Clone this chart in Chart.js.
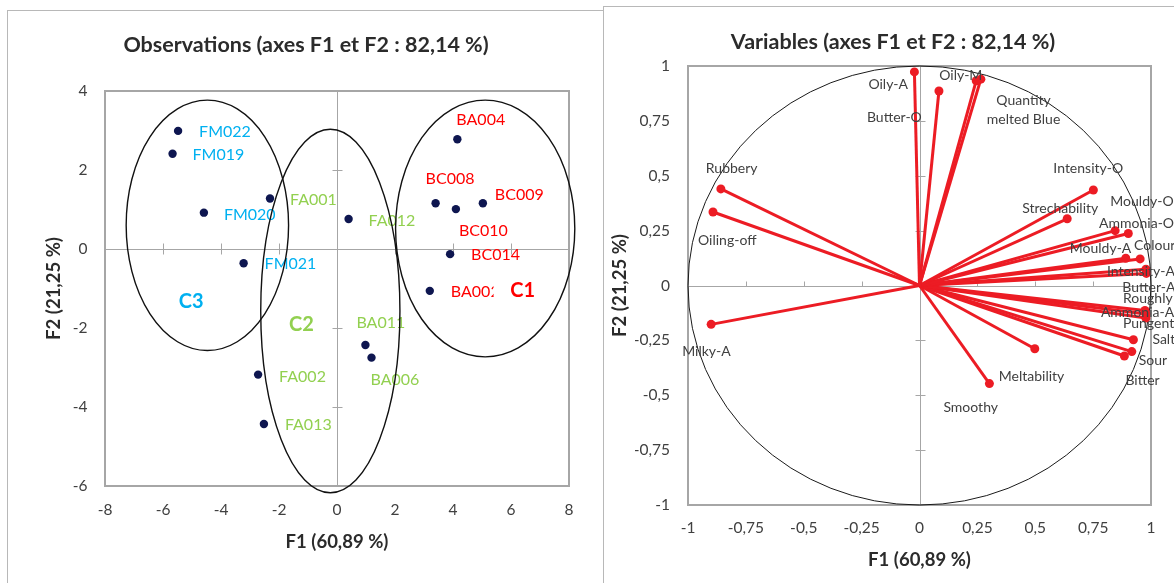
<!DOCTYPE html>
<html>
<head>
<meta charset="utf-8">
<script src="https://cdn.jsdelivr.net/npm/chart.js@4"></script>
<style>
  html, body { margin: 0; padding: 0; background: #fff; overflow: hidden; }
  body { width: 1174px; height: 583px; position: relative; }
  .panel { position: absolute; border: 1px solid #B8B8B8; background: #fff; }
  canvas { position: absolute; }
</style>
</head>
<body>
<div class="panel" style="left:7px;top:10px;width:596px;height:600px"></div>
<div class="panel" style="left:603px;top:6px;width:600px;height:600px"></div>
<canvas id="obs" width="598" height="573" style="left:7px;top:10px"></canvas>
<canvas id="vars" width="580" height="577" style="left:603px;top:6px"></canvas>
<script>
// observations (left)
const obsNames = ['FM022','FM019','FM020','FA001','FM021','FA012','BA004','BC008','BC010','BC009','BC014','BA002','BA011','BA006','FA002','FA013'];
const obsF1 = [-5.48,-5.67,-4.59,-2.31,-3.22,0.40,4.15,3.40,4.10,5.03,3.90,3.20,0.98,1.19,-2.72,-2.52];
const obsF2 = [2.99,2.41,0.92,1.28,-0.36,0.76,2.78,1.16,1.01,1.16,-0.13,-1.06,-2.43,-2.75,-3.18,-4.43];
const obsCluster = ['C3','C3','C3','C2','C3','C2','C1','C1','C1','C1','C1','C1','C2','C2','C2','C2'];

// cluster ellipses (data units)
const clusterNames = ['C1','C2','C3'];
const clusterCx = [5.11,-0.23,-4.47];
const clusterCy = [0.52,-1.57,0.60];
const clusterRx = [3.09,2.40,2.80];
const clusterRy = [3.25,4.60,3.17];

const obsTicksX = ['-8','-6','-4','-2','0','2','4','6','8'];
const obsTicksY = ['-6','-4','-2','0','2','4'];

// variables (right)
const varNames = ['Oily-A','Butter-O','Oily-M','Quantity\nmelted Blue','Rubbery','Oiling-off','Intensity-O','Strechability',
  'Mouldy-O','Ammonia-O','Mouldy-A','Colour','Intensity-A','Butter-A','Roughly','Ammonia-A','Pungent','Salt','Sour','Bitter',
  'Meltability','Smoothy','Milky-A'];
const varF1 = [-0.022,0.084,0.245,0.265,-0.858,-0.892,0.751,0.638,0.902,0.845,0.891,0.953,0.978,0.980,0.974,0.978,0.978,0.924,0.917,0.885,0.498,0.302,-0.900];
const varF2 = [0.973,0.886,0.933,0.940,0.440,0.335,0.435,0.304,0.237,0.250,0.124,0.121,0.074,0.055,-0.114,-0.130,-0.148,-0.247,-0.301,-0.321,-0.288,-0.447,-0.177];

const varTicksX = ['-1','-0,75','-0,5','-0,25','0','0,25','0,5','0,75','1'];
const varTicksY = ['-1','-0,75','-0,5','-0,25','0','0,25','0,5','0,75','1'];

// layout bits (pixels)
const clusterColor = { C1: '#FF0000', C2: '#92D050', C3: '#00B0F0' };
const clusterLabelAt = { C1: [6.40, -1.04], C2: [-1.23, -1.90], C3: [-5.03, -1.33] };
const obsLabelDx = [21,20,20,20,21,20,-1,-10,3,12,21,21,-9,-1,21,21];
const obsLabelDy = [1,1,2,1,1,2,-19,-24,22,-8,1,1,-22,22,2,1];
const varLabelDx = [-46,-72,-37,6,-15,-15,-40,-45,-18,-16,-56,-6,-39,-24,-22,-45,-23,19,7,1,-36,-46,-29];
const varLabelDy = [13,26,-5,31,-20,29,-22,-10,-32,-7,-10,-13,2,14,-12,-2,5,0,9,25,28,24,27];

const FONT = 'Lato';
const RED = '#EC1C24';

const frameAxes = {
  id: 'frameAxes',
  beforeDatasetsDraw(chart, args, opts) {
    const { ctx, chartArea: a, scales: { x, y } } = chart;
    const x0 = Math.round(x.getPixelForValue(0)) + 0.5;
    const y0 = Math.round(y.getPixelForValue(0)) + 0.5;
    ctx.save();
    ctx.strokeStyle = '#A6A6A6';
    ctx.lineWidth = 1;
    ctx.beginPath();
    ctx.moveTo(a.left, y0); ctx.lineTo(a.right, y0);
    ctx.moveTo(x0, a.top); ctx.lineTo(x0, a.bottom);
    x.ticks.forEach(t => {
      if (t.value === 0 || t.value === x.min || t.value === x.max) return;
      const p = Math.round(x.getPixelForValue(t.value)) + 0.5;
      ctx.moveTo(p, y0 - opts.up); ctx.lineTo(p, y0 + opts.down);
    });
    y.ticks.forEach(t => {
      if (t.value === 0 || t.value === y.min || t.value === y.max) return;
      const p = Math.round(y.getPixelForValue(t.value)) + 0.5;
      ctx.moveTo(x0 - 5, p); ctx.lineTo(x0 + 5, p);
    });
    ctx.stroke();
    ctx.lineWidth = 2;
    ctx.strokeStyle = '#A6A6A6';
    ctx.strokeRect(a.left, a.top, a.width, a.height);
    if (opts.circle) {
      const cx = x.getPixelForValue(0), cy = y.getPixelForValue(0);
      ctx.strokeStyle = '#1A1A1A';
      ctx.lineWidth = 1;
      ctx.beginPath();
      ctx.ellipse(cx, cy, x.getPixelForValue(1) - cx, cy - y.getPixelForValue(1), 0, 0, Math.PI * 2);
      ctx.stroke();
    }
    ctx.restore();
  }
};

const obsDecor = {
  id: 'obsDecor',
  afterDatasetsDraw(chart) {
    const { ctx, scales: { x, y } } = chart;
    ctx.save();
    ctx.font = '16px ' + FONT;
    ctx.textBaseline = 'middle';
    ctx.textAlign = 'left';
    obsNames.forEach((n, i) => {
      ctx.fillStyle = clusterColor[obsCluster[i]];
      ctx.fillText(n, x.getPixelForValue(obsF1[i]) + obsLabelDx[i], y.getPixelForValue(obsF2[i]) + obsLabelDy[i]);
    });
    ctx.font = 'bold 20px ' + FONT;
    ctx.textAlign = 'center';
    clusterNames.forEach(c => {
      const px = x.getPixelForValue(clusterLabelAt[c][0]);
      const py = y.getPixelForValue(clusterLabelAt[c][1]);
      if (c === 'C1') { ctx.fillStyle = '#fff'; ctx.fillRect(px - 29, py - 11, 55, 22); }
      ctx.fillStyle = clusterColor[c];
      ctx.fillText(c, px, py);
    });
    ctx.strokeStyle = '#111';
    ctx.lineWidth = 1.4;
    clusterNames.forEach((c, i) => {
      const cx = x.getPixelForValue(clusterCx[i]), cy = y.getPixelForValue(clusterCy[i]);
      ctx.beginPath();
      ctx.ellipse(cx, cy, x.getPixelForValue(clusterCx[i] + clusterRx[i]) - cx, cy - y.getPixelForValue(clusterCy[i] + clusterRy[i]), 0, 0, Math.PI * 2);
      ctx.stroke();
    });
    ctx.restore();
  }
};

const varLabels = {
  id: 'varLabels',
  afterDatasetsDraw(chart) {
    const { ctx, scales: { x, y } } = chart;
    ctx.save();
    ctx.font = '14px ' + FONT;
    ctx.fillStyle = '#404040';
    ctx.textBaseline = 'middle';
    ctx.textAlign = 'center';
    varNames.forEach((n, i) => {
      const lines = n.split('\n');
      const w = Math.max(...lines.map(l => ctx.measureText(l).width));
      const left = x.getPixelForValue(varF1[i]) + varLabelDx[i];
      const cy = y.getPixelForValue(varF2[i]) + varLabelDy[i];
      const lh = 19;
      lines.forEach((l, k) => ctx.fillText(l, left + w / 2, cy + (k - (lines.length - 1) / 2) * lh));
    });
    ctx.restore();
  }
};

const tickFont = { family: FONT, size: 15.5 };
const titleFont = { family: FONT, size: 21.5, weight: 'bold' };
const axisFont = { family: FONT, size: 18.5, weight: 'bold' };

new Chart(document.getElementById('obs'), {
  type: 'scatter',
  data: {
    datasets: [{
      data: obsF1.map((v, i) => ({ x: v, y: obsF2[i] })),
      backgroundColor: '#0E1650',
      borderWidth: 0,
      pointRadius: 4.2
    }]
  },
  options: {
    responsive: false,
    animation: false,
    layout: { padding: { left: 36, top: 0, right: 36, bottom: 17 } },
    plugins: {
      legend: { display: false },
      tooltip: { enabled: false },
      title: { display: true, text: 'Observations (axes F1 et F2 : 82,14 %)', color: '#2B2B2B', font: titleFont, padding: { top: 22.1, bottom: 33.1 } },
      frameAxes: { up: 6, down: 5 }
    },
    scales: {
      x: {
        type: 'linear', min: -8, max: 8,
        grid: { display: false, drawTicks: false }, border: { display: false },
        ticks: { stepSize: 2, padding: 14.5, maxRotation: 0, color: '#404040', font: tickFont, callback: (v, i) => obsTicksX[i] },
        title: { display: true, text: 'F1 (60,89 %)', color: '#2B2B2B', font: axisFont, padding: { top: 0, bottom: 13.2 } },
        afterFit: s => { s.height = 80; }
      },
      y: {
        type: 'linear', min: -6, max: 4,
        grid: { display: false, drawTicks: false }, border: { display: false },
        ticks: { stepSize: 2, padding: 17.5, color: '#404040', font: tickFont, callback: (v, i) => obsTicksY[i] },
        title: { display: true, text: 'F2 (21,25 %)', color: '#2B2B2B', font: axisFont, padding: { top: -0.5, bottom: 0 } },
        afterFit: s => { s.width = 62; }
      }
    }
  },
  plugins: [frameAxes, obsDecor]
});

new Chart(document.getElementById('vars'), {
  type: 'scatter',
  data: {
    datasets: varNames.map((n, i) => ({
      data: [{ x: 0, y: 0 }, { x: varF1[i], y: varF2[i] }],
      showLine: true,
      borderColor: RED,
      borderWidth: 3,
      pointRadius: c => (c.dataIndex ? 4.5 : 0),
      pointBackgroundColor: RED,
      pointBorderWidth: 0
    }))
  },
  options: {
    responsive: false,
    animation: false,
    layout: { padding: { left: 32, top: 0, right: 32, bottom: 8 } },
    plugins: {
      legend: { display: false },
      tooltip: { enabled: false },
      title: { display: true, text: 'Variables (axes F1 et F2 : 82,14 %)', color: '#2B2B2B', font: titleFont, padding: { top: 22.8, bottom: 11.4 } },
      frameAxes: { up: 5, down: 0, circle: true }
    },
    scales: {
      x: {
        type: 'linear', min: -1, max: 1,
        grid: { display: false, drawTicks: false }, border: { display: false },
        ticks: { stepSize: 0.25, padding: 13.5, maxRotation: 0, color: '#404040', font: tickFont, callback: (v, i) => varTicksX[i] },
        title: { display: true, text: 'F1 (60,89 %)', color: '#2B2B2B', font: axisFont, padding: { top: 0, bottom: 3.9 } },
        afterFit: s => { s.height = 70; }
      },
      y: {
        type: 'linear', min: -1, max: 1,
        grid: { display: false, drawTicks: false }, border: { display: false },
        ticks: { stepSize: 0.25, padding: 18, color: '#404040', font: tickFont, callback: (v, i) => varTicksY[i] },
        title: { display: true, text: 'F2 (21,25 %)', color: '#2B2B2B', font: axisFont, padding: { top: -26.1, bottom: 0 } },
        afterFit: s => { s.width = 53; }
      }
    }
  },
  plugins: [frameAxes, varLabels]
});
</script>
</body>
</html>
